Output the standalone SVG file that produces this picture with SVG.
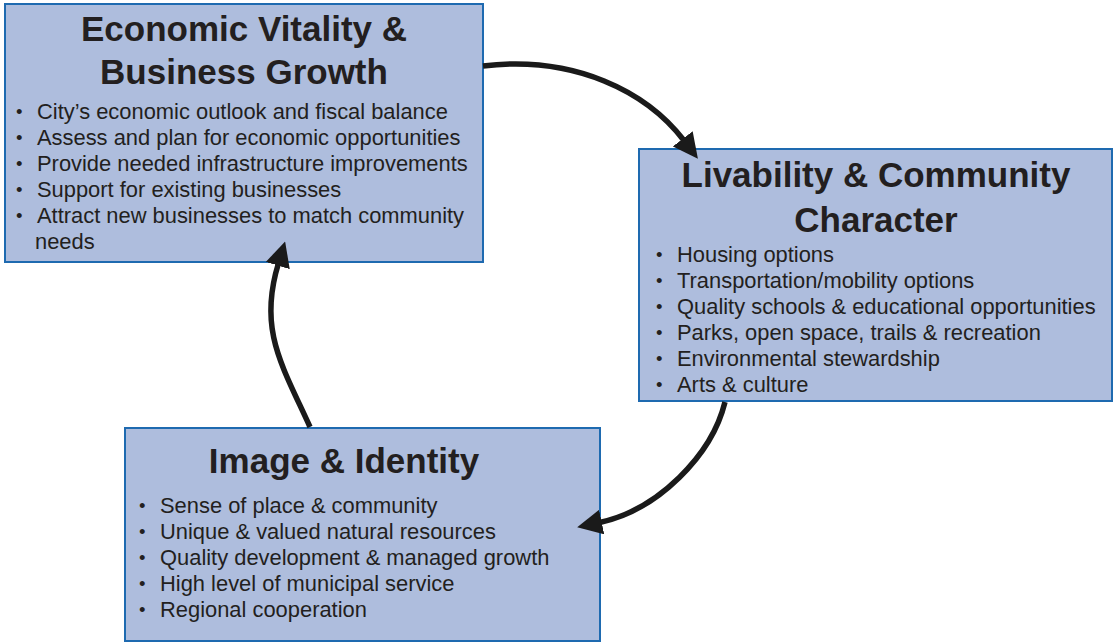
<svg xmlns="http://www.w3.org/2000/svg" width="1113" height="643" viewBox="0 0 1113 643">
<style>
.box{fill:#AEBDDD;stroke:#1E6AB0;stroke-width:2}
.title{font-family:"Liberation Sans",Arial,sans-serif;font-weight:bold;font-size:35px;fill:#231F20}
.item{font-family:"Liberation Sans",Arial,sans-serif;font-size:21.9px;fill:#231F20}
.bul{font-size:18.5px}
.conn{fill:none;stroke:#1A1A1A;stroke-width:5.5}
</style>
<defs>
<marker id="ah" viewBox="0 0 24 24" refX="2" refY="12" markerWidth="25" markerHeight="25" markerUnits="userSpaceOnUse" orient="auto">
<path d="M0,0 L24,12 L0,24 z" fill="#1A1A1A"/>
</marker>
</defs>
<rect width="1113" height="643" fill="#FFFFFF"/>
<g id="node-economic">
<rect class="box" x="5" y="4" width="478" height="258"/>
<text class="title" x="244" y="41" text-anchor="middle">Economic Vitality &amp;</text>
<text class="title" x="244" y="84" text-anchor="middle">Business Growth</text>
<text class="item"><tspan class="bul" x="16" y="118">•</tspan><tspan x="37" y="119">City’s economic outlook and fiscal balance</tspan></text>
<text class="item"><tspan class="bul" x="16" y="144">•</tspan><tspan x="37" y="145">Assess and plan for economic opportunities</tspan></text>
<text class="item"><tspan class="bul" x="16" y="170">•</tspan><tspan x="37" y="171">Provide needed infrastructure improvements</tspan></text>
<text class="item"><tspan class="bul" x="16" y="196">•</tspan><tspan x="37" y="197">Support for existing businesses</tspan></text>
<text class="item"><tspan class="bul" x="16" y="222">•</tspan><tspan x="37" y="223">Attract new businesses to match community</tspan></text>
<text class="item" x="35" y="249">needs</text>
</g>
<g id="node-livability">
<rect class="box" x="639" y="149" width="473" height="252"/>
<text class="title" x="876" y="187" text-anchor="middle">Livability &amp; Community</text>
<text class="title" x="876" y="232" text-anchor="middle">Character</text>
<text class="item"><tspan class="bul" x="656" y="261">•</tspan><tspan x="677" y="262">Housing options</tspan></text>
<text class="item"><tspan class="bul" x="656" y="287">•</tspan><tspan x="677" y="288">Transportation/mobility options</tspan></text>
<text class="item"><tspan class="bul" x="656" y="313">•</tspan><tspan x="677" y="314">Quality schools &amp; educational opportunities</tspan></text>
<text class="item"><tspan class="bul" x="656" y="339">•</tspan><tspan x="677" y="340">Parks, open space, trails &amp; recreation</tspan></text>
<text class="item"><tspan class="bul" x="656" y="365">•</tspan><tspan x="677" y="366">Environmental stewardship</tspan></text>
<text class="item"><tspan class="bul" x="656" y="391">•</tspan><tspan x="677" y="392">Arts &amp; culture</tspan></text>
</g>
<g id="node-image">
<rect class="box" x="125" y="428" width="475" height="213"/>
<text class="title" x="344" y="473" text-anchor="middle">Image &amp; Identity</text>
<text class="item"><tspan class="bul" x="139" y="512">•</tspan><tspan x="160" y="513">Sense of place &amp; community</tspan></text>
<text class="item"><tspan class="bul" x="139" y="538">•</tspan><tspan x="160" y="539">Unique &amp; valued natural resources</tspan></text>
<text class="item"><tspan class="bul" x="139" y="564">•</tspan><tspan x="160" y="565">Quality development &amp; managed growth</tspan></text>
<text class="item"><tspan class="bul" x="139" y="590">•</tspan><tspan x="160" y="591">High level of municipal service</tspan></text>
<text class="item"><tspan class="bul" x="139" y="616">•</tspan><tspan x="160" y="617">Regional cooperation</tspan></text>
</g>
<g id="connectors">
<path class="conn" d="M483,66 C575,55 647,92 684,140.5" marker-end="url(#ah)"/>
<path class="conn" d="M725,402 C712,455 658,510 599.6,522.5" marker-end="url(#ah)"/>
<path class="conn" d="M310,427 C282,365 258,330 278.4,263.5" marker-end="url(#ah)"/>
</g>
</svg>
